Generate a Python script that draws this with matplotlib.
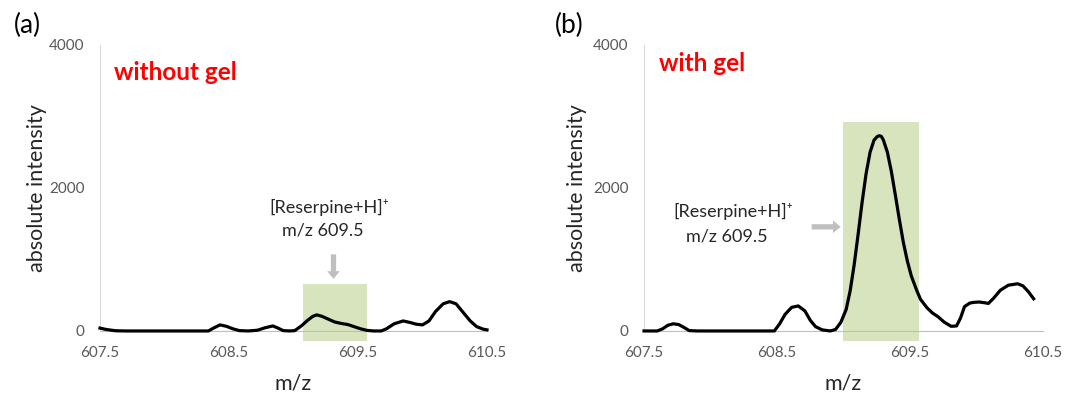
import matplotlib.pyplot as plt
from matplotlib.patches import Rectangle

plt.rcParams['font.family'] = ['Lato', 'DejaVu Sans']

# spectrum without gel (a)
mz_a = [607.50, 607.55, 607.62, 607.70, 607.80, 608.00, 608.20, 608.34, 608.38, 608.43,
        608.48, 608.53, 608.58, 608.65, 608.72, 608.78, 608.84, 608.88, 608.92, 608.97,
        609.01, 609.06, 609.11, 609.15, 609.18, 609.22, 609.27, 609.32, 609.37, 609.42,
        609.47, 609.52, 609.57, 609.62, 609.68, 609.72, 609.78, 609.85, 609.90, 609.95,
        610.00, 610.05, 610.10, 610.16, 610.21, 610.26, 610.31, 610.37, 610.42, 610.47,
        610.50]
int_a = [40, 20, 3, 0, 0, 0, 0, 0, 40, 85,
         65, 30, 5, 0, 10, 45, 70, 40, 5, 0,
         5, 70, 150, 205, 225, 205, 165, 125, 105, 90,
         60, 30, 8, 0, 0, 30, 100, 140, 120, 95,
         85, 140, 270, 380, 410, 380, 270, 140, 60, 25,
         15]

# spectrum with gel (b)
mz_b = [607.50, 607.60, 607.64, 607.68, 607.72, 607.76, 607.80, 607.84, 607.90, 608.10,
        608.30, 608.48, 608.52, 608.56, 608.61, 608.66, 608.71, 608.75, 608.79, 608.84,
        608.90, 608.94, 608.98, 609.02, 609.05, 609.08, 609.11, 609.14, 609.17, 609.20,
        609.23, 609.255, 609.27, 609.285, 609.30, 609.33, 609.36, 609.39, 609.42, 609.45,
        609.48, 609.51, 609.55, 609.58, 609.63, 609.67, 609.71, 609.76, 609.81, 609.85,
        609.88, 609.91, 609.95, 609.98, 610.02, 610.06, 610.09, 610.13, 610.18, 610.24,
        610.31, 610.35, 610.39, 610.43]
int_b = [0, 0, 30, 80, 100, 90, 50, 5, 0, 0,
         0, 0, 100, 230, 330, 350, 280, 150, 60, 15,
         0, 20, 120, 300, 560, 920, 1350, 1800, 2200, 2500,
         2670, 2720, 2730, 2720, 2670, 2500, 2230, 1900, 1560, 1240,
         980, 770, 570, 440, 320, 250, 200, 120, 65, 70,
         180, 340, 390, 400, 405, 395, 385, 460, 570, 640,
         660, 630, 550, 450]

# highlighted m/z windows
win_a = (609.07, 609.57, 660)
win_b = (609.00, 609.57, 2920)
win_bottom = -140

xticks = [607.5, 608.5, 609.5, 610.5]
yticks = [0, 2000, 4000]

fig = plt.figure(figsize=(10.65, 3.94), dpi=100)
ax_a = fig.add_axes([0.0939, 0.160, 0.3634, 0.726])
ax_b = fig.add_axes([0.6047, 0.160, 0.3746, 0.726])


def style(ax, mz, inten, win, title, title_y, ylab_x):
    x0, x1, top = win
    ax.add_patch(Rectangle((x0, win_bottom), x1 - x0, top - win_bottom,
                           facecolor='#d7e4bd', edgecolor='none', clip_on=False, zorder=1))
    ax.plot(mz, inten, color='black', lw=2.3, solid_joinstyle='round', zorder=3, clip_on=False)
    ax.set_xlim(607.5, 610.5)
    ax.set_ylim(0, 4000)
    ax.set_xticks(xticks)
    ax.set_xticklabels([f'{t:.1f}' for t in xticks])
    ax.set_yticks(yticks)
    ax.tick_params(length=0, labelsize=11, colors='#595959')
    ax.tick_params(axis='x', pad=11)
    ax.tick_params(axis='y', pad=11)
    for s in ['top', 'right']:
        ax.spines[s].set_visible(False)
    ax.spines['left'].set_color('#d9d9d9')
    ax.spines['bottom'].set_color('#bfbfbf')
    ax.spines['bottom'].set_zorder(2)
    ax.set_xlabel('m/z', fontsize=15.5, color='#262626')
    ax.set_ylabel('absolute intensity', fontsize=15.5, color='#262626')
    ax.xaxis.set_label_coords(0.5, -0.148)
    ax.yaxis.set_label_coords(ylab_x, 0.5)
    ax.text(607.61, title_y, title, color='#ff0000', fontsize=17.5, fontweight='bold',
            va='center', ha='left')


style(ax_a, mz_a, int_a, win_a, 'without gel', 3610, -0.137)
style(ax_b, mz_b, int_b, win_b, 'with gel', 3740, -0.143)

arrow = dict(arrowstyle='simple,head_length=0.55,head_width=0.9,tail_width=0.38',
             color='#bfbfbf', lw=0)

ax_a.text(609.28, 1720, '[Reserpine+H]⁺', fontsize=13, color='#262626', ha='center', va='center')
ax_a.text(609.23, 1410, 'm/z 609.5', fontsize=13, color='#262626', ha='center', va='center')
ax_a.annotate('', xy=(609.31, 690), xytext=(609.31, 1110), arrowprops=arrow)

ax_b.text(608.17, 1666, '[Reserpine+H]⁺', fontsize=13, color='#262626', ha='center', va='center')
ax_b.text(608.12, 1316, 'm/z 609.5', fontsize=13, color='#262626', ha='center', va='center')
ax_b.annotate('', xy=(609.0, 1456), xytext=(608.74, 1456), arrowprops=arrow)

fig.text(27 / 1065, 1 - 25 / 394, '(a)', fontsize=19, ha='center', va='center')
fig.text(569 / 1065, 1 - 25 / 394, '(b)', fontsize=19, ha='center', va='center')

fig.savefig('out.png', dpi=100)
